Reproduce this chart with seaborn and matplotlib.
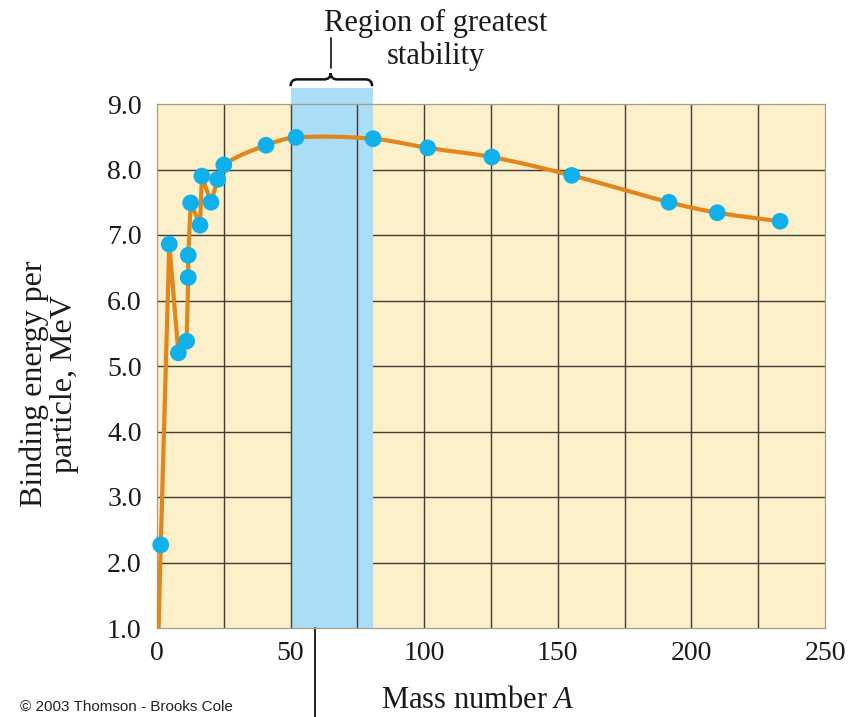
import numpy as np
import pandas as pd
import matplotlib.pyplot as plt
import seaborn as sns
import matplotlib.transforms as mtransforms
from matplotlib.path import Path
from matplotlib.patches import PathPatch

# light nuclei (jagged part of the curve): mass number A and binding energy per particle (MeV)
light_a = [1.4, 4.6, 8.0, 11.1, 11.7, 11.7, 12.6, 16.1, 16.8, 20.2, 22.7, 25.0]
light_be = [2.27, 6.86, 5.20, 5.38, 6.35, 6.69, 7.49, 7.15, 7.90, 7.50, 7.85, 8.07]

# heavier nuclei (smooth part of the curve)
heavy_a = [40.8, 52.0, 80.9, 101.3, 125.3, 155.2, 191.6, 209.7, 233.2]
heavy_be = [8.37, 8.49, 8.47, 8.33, 8.19, 7.91, 7.50, 7.34, 7.21]

# curve starts at the origin (hydrogen)
curve_start_a = [0.0]
curve_start_be = [0.0]

stable_region = (50, 81)   # shaded band, mass numbers
pointer_a = 59             # pointer line under the axis

x_ticks = [0, 50, 100, 150, 200, 250]
y_ticks = [1.0, 2.0, 3.0, 4.0, 5.0, 6.0, 7.0, 8.0, 9.0]

CREAM = "#FCF0CA"
BLUE = "#ABDDF6"
ORANGE = "#E2861C"
CYAN = "#10B0EA"
GRID = "#3f3c32"


def smooth(xs, ys, n=40):
    # cubic hermite through the points, finite difference tangents
    xs = np.asarray(xs, float)
    ys = np.asarray(ys, float)
    m = np.zeros_like(ys)
    m[1:-1] = (ys[2:] - ys[:-2]) / (xs[2:] - xs[:-2])
    m[0] = (ys[1] - ys[0]) / (xs[1] - xs[0])
    m[-1] = (ys[-1] - ys[-2]) / (xs[-1] - xs[-2])
    out_x, out_y = [], []
    for i in range(len(xs) - 1):
        h = xs[i + 1] - xs[i]
        t = np.linspace(0, 1, n, endpoint=False)
        h00 = 2 * t**3 - 3 * t**2 + 1
        h10 = t**3 - 2 * t**2 + t
        h01 = -2 * t**3 + 3 * t**2
        h11 = t**3 - t**2
        out_x.extend(xs[i] + t * h)
        out_y.extend(h00 * ys[i] + h10 * h * m[i] + h01 * ys[i + 1] + h11 * h * m[i + 1])
    out_x.append(xs[-1])
    out_y.append(ys[-1])
    return out_x, out_y


sns.set_style("white")
plt.rcParams["font.family"] = ["Liberation Serif", "DejaVu Serif"]
plt.rcParams["mathtext.fontset"] = "custom"
plt.rcParams["mathtext.rm"] = "Liberation Serif"
plt.rcParams["mathtext.it"] = "Liberation Serif:italic"

fig = plt.figure(figsize=(8.55, 7.17), dpi=100)
ax = fig.add_axes([157 / 855, 1 - 628 / 717, 668 / 855, 524 / 717])
ax.set_facecolor(CREAM)

# curve: straight segments for light nuclei, smooth for heavier ones
sm_x, sm_y = smooth([light_a[-2], light_a[-1]] + heavy_a, [light_be[-2], light_be[-1]] + heavy_be)
curve = pd.DataFrame({
    "A": curve_start_a + light_a[:-2] + sm_x,
    "BE": curve_start_be + light_be[:-2] + sm_y,
})
points = pd.DataFrame({"A": light_a + heavy_a, "BE": light_be + heavy_be})

ax.set_xlim(0, 250)
ax.set_ylim(1.0, 9.0)

# horizontal grid under the blue band, vertical grid over it
for yv in y_ticks[1:-1]:
    ax.axhline(yv, color=GRID, lw=1.0, zorder=0.5)
ax.axvspan(*stable_region, ymin=0, ymax=1.03, color=BLUE, lw=0, zorder=1, clip_on=False)
for xv in np.arange(25, 250, 25):
    ax.axvline(xv, color=GRID, lw=1.0, zorder=1.5)

sns.lineplot(data=curve, x="A", y="BE", sort=False, estimator=None, color=ORANGE,
             lw=3.0, ax=ax, zorder=3)
sns.scatterplot(data=points, x="A", y="BE", color=CYAN, s=145, edgecolor="none",
                ax=ax, zorder=4, clip_on=False)

ax.set_xticks(x_ticks)
ax.set_yticks(y_ticks)
ax.set_xticklabels([str(v) for v in x_ticks])
ax.set_yticklabels([f"{v:.1f}" for v in y_ticks])
ax.tick_params(length=0, labelsize=20, colors="#1a1a1a")
ax.tick_params(axis="x", pad=9)
ax.tick_params(axis="y", pad=11)
ax.set_xlabel("")
ax.set_ylabel("")
for s in ax.spines.values():
    s.set_color("#a59d88")
    s.set_linewidth(0.9)

# brace and pointer above the band
trans = mtransforms.blended_transform_factory(ax.transData, ax.transAxes)
xl, xr = stable_region[0], stable_region[1] - 0.5
xm = 65
y0, y1, y2 = 1.034, 1.047, 1.059
verts = [(xl, y0), (xl, y1), (xl + 2.5, y1), (xm - 2.5, y1), (xm, y1), (xm, y2),
         (xm, y1), (xm + 2.5, y1), (xr - 2.5, y1), (xr, y1), (xr, y0)]
codes = [Path.MOVETO, Path.CURVE3, Path.CURVE3, Path.LINETO, Path.CURVE3, Path.CURVE3,
         Path.CURVE3, Path.CURVE3, Path.LINETO, Path.CURVE3, Path.CURVE3]
ax.add_patch(PathPatch(Path(verts, codes), transform=trans, fill=False, lw=1.8,
                       edgecolor="#111111", clip_on=False))
ax.plot([xm, xm], [1.069, 1.126], transform=trans, color="#111111", lw=1.2, clip_on=False)
ax.plot([pointer_a, pointer_a], [0, -0.175], transform=trans, color="#111111", lw=1.3,
        clip_on=False)

fig.text(436 / 855, 1 - 40 / 717, "Region of greatest\nstability", ha="center", va="center",
         fontsize=22, linespacing=1.12, color="#1a1a1a")
fig.text(49 / 855, 1 - 384 / 717, "Binding energy per\nparticle, MeV", ha="center",
         va="center", rotation=90, fontsize=23, linespacing=1.05, color="#1a1a1a")
fig.text(478 / 855, 1 - 701 / 717, "Mass number $A$", ha="center", va="center",
         fontsize=22, color="#1a1a1a")
fig.text(20 / 855, 1 - 707 / 717, "\u00a9 2003 Thomson - Brooks Cole", ha="left",
         va="center", fontsize=11, family=["Liberation Sans", "DejaVu Sans"], color="#222222")

fig.savefig("out.png", dpi=100, facecolor="white")
